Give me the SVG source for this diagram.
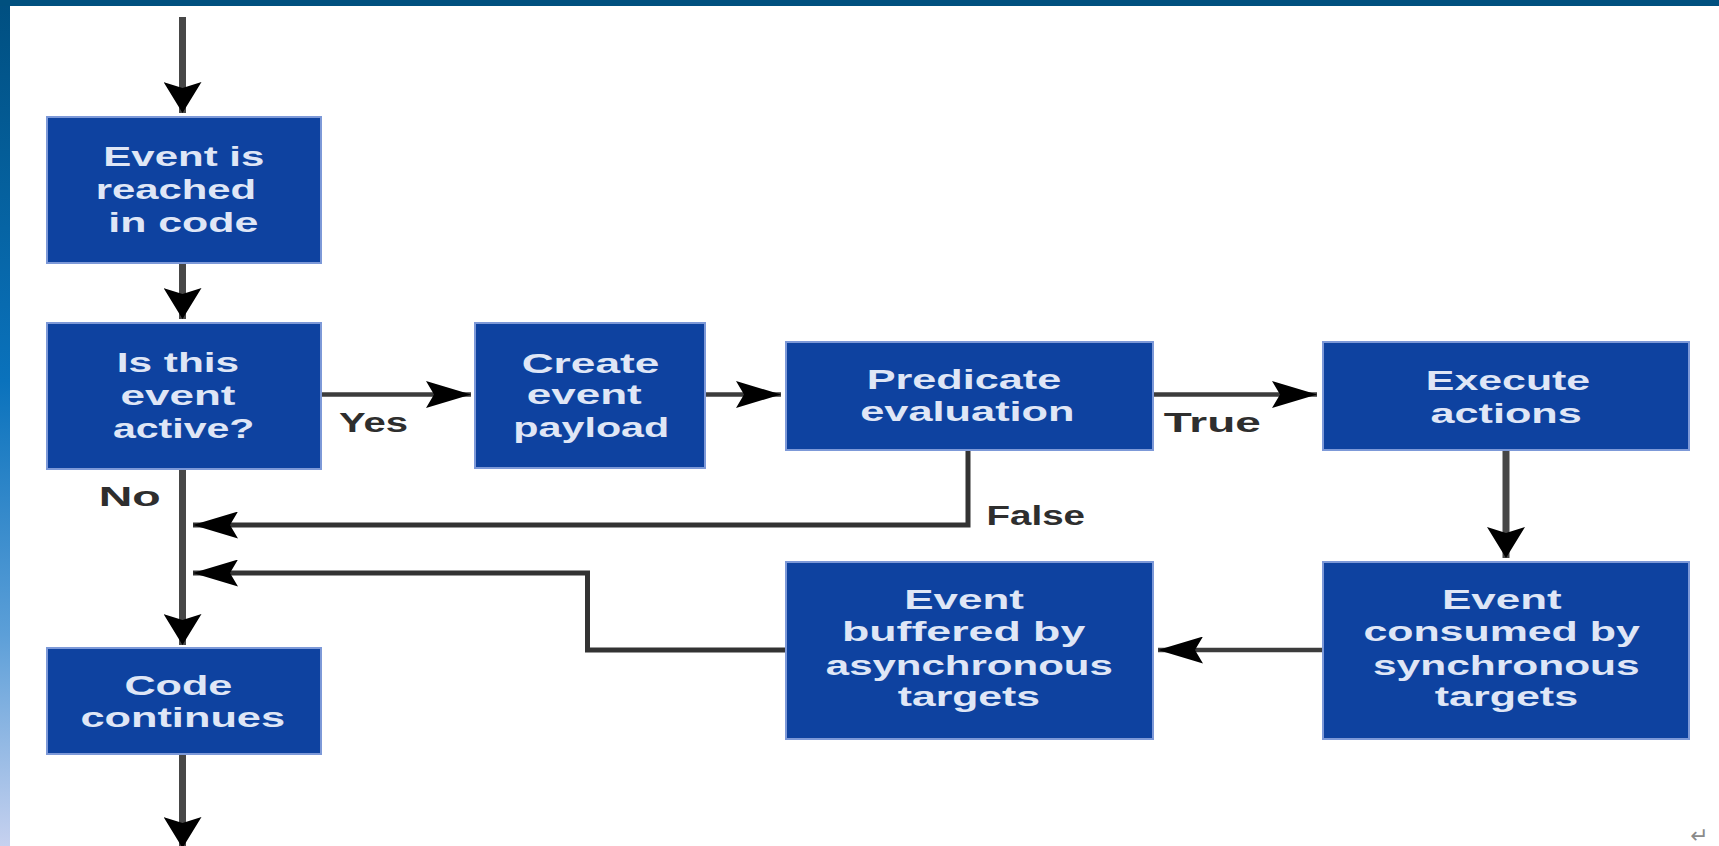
<svg xmlns="http://www.w3.org/2000/svg" width="1719" height="846" viewBox="0 0 1719 846">
<defs>
<linearGradient id="sideGrad" x1="0" y1="0" x2="0" y2="1">
<stop offset="0" stop-color="#004f80"/>
<stop offset="0.45" stop-color="#0a72bc"/>
<stop offset="0.75" stop-color="#5c9fd8"/>
<stop offset="1" stop-color="#c6d1ef"/>
</linearGradient>
<marker id="ah" markerUnits="userSpaceOnUse" viewBox="0 0 45 27" markerWidth="45" markerHeight="27" refX="45" refY="13.5" orient="auto">
<path d="M0,0 L45,13.5 L0,27 L8,13.5 Z" fill="#000"/>
</marker>
<marker id="av" markerUnits="userSpaceOnUse" viewBox="0 0 31 38" markerWidth="31" markerHeight="38" refX="31" refY="19" orient="auto">
<path d="M0,0 L31,19 L0,38 L6,19 Z" fill="#000"/>
</marker>
</defs>
<style>
.box{fill:#0e42a0;stroke:#7d99d8;stroke-width:2}
.bt{font-family:"Liberation Sans",Arial,sans-serif;font-size:28.5px;font-weight:bold;fill:#dfe6f6}
.lb{font-family:"Liberation Sans",Arial,sans-serif;font-size:28.5px;font-weight:bold;fill:#2e2e2e}
.v{stroke:#474747;stroke-width:7;fill:none;marker-end:url(#av)}
.h{stroke:#3c3c3c;stroke-width:4.5;fill:none;marker-end:url(#ah)}
.p{stroke:#333;stroke-width:5;fill:none;stroke-linejoin:miter;marker-end:url(#ah)}
</style>
<rect x="0" y="0" width="1719" height="846" fill="#ffffff"/>
<rect x="0" y="0" width="10" height="846" fill="url(#sideGrad)"/>
<rect x="0" y="0" width="1719" height="6" fill="#00507f"/>

<g id="connectors">
<line class="v" x1="182.5" y1="17" x2="182.5" y2="113"/>
<line class="v" x1="182.5" y1="263" x2="182.5" y2="319"/>
<line class="v" x1="182.5" y1="469" x2="182.5" y2="645"/>
<line class="v" x1="182.5" y1="754" x2="182.5" y2="848"/>
<line class="h" x1="321" y1="394.5" x2="471" y2="394.5"/>
<line class="h" x1="705" y1="394.5" x2="781" y2="394.5"/>
<line class="h" x1="1153" y1="394.5" x2="1317" y2="394.5"/>
<line class="v" x1="1506" y1="450" x2="1506" y2="558"/>
<line class="h" x1="1323" y1="650" x2="1158" y2="650"/>
<polyline class="p" points="968,450 968,525 193,525"/>
<polyline class="p" points="786,650 587.5,650 587.5,573 193,573"/>
</g>

<g id="node-reached">
<rect class="box" x="47" y="117" width="274" height="146"/>
<text class="bt" x="103.3" y="165.7" textLength="161" lengthAdjust="spacingAndGlyphs">Event is</text>
<text class="bt" x="95.7" y="199" textLength="160.5" lengthAdjust="spacingAndGlyphs">reached</text>
<text class="bt" x="108.3" y="231.7" textLength="150" lengthAdjust="spacingAndGlyphs">in code</text>
</g>

<g id="node-active">
<rect class="box" x="47" y="323" width="274" height="146"/>
<text class="bt" x="116.7" y="372.4" textLength="122.5" lengthAdjust="spacingAndGlyphs">Is this</text>
<text class="bt" x="120.6" y="404.5" textLength="114.8" lengthAdjust="spacingAndGlyphs">event</text>
<text class="bt" x="112.9" y="437.5" textLength="141.6" lengthAdjust="spacingAndGlyphs">active?</text>
</g>

<g id="node-payload">
<rect class="box" x="475" y="323" width="230" height="145"/>
<text class="bt" x="521.7" y="372.7" textLength="137.6" lengthAdjust="spacingAndGlyphs">Create</text>
<text class="bt" x="526.7" y="404.3" textLength="115" lengthAdjust="spacingAndGlyphs">event</text>
<text class="bt" x="513.3" y="436.7" textLength="156" lengthAdjust="spacingAndGlyphs">payload</text>
</g>

<g id="node-predicate">
<rect class="box" x="786" y="342" width="367" height="108"/>
<text class="bt" x="866.7" y="388.8" textLength="194.5" lengthAdjust="spacingAndGlyphs">Predicate</text>
<text class="bt" x="860.2" y="420.5" textLength="214.4" lengthAdjust="spacingAndGlyphs">evaluation</text>
</g>

<g id="node-execute">
<rect class="box" x="1323" y="342" width="366" height="108"/>
<text class="bt" x="1425.8" y="389.8" textLength="164.4" lengthAdjust="spacingAndGlyphs">Execute</text>
<text class="bt" x="1430.5" y="422.6" textLength="151.3" lengthAdjust="spacingAndGlyphs">actions</text>
</g>

<g id="node-consumed">
<rect class="box" x="1323" y="562" width="366" height="177"/>
<text class="bt" x="1442" y="609" textLength="119.7" lengthAdjust="spacingAndGlyphs">Event</text>
<text class="bt" x="1363.4" y="641" textLength="276.4" lengthAdjust="spacingAndGlyphs">consumed by</text>
<text class="bt" x="1373" y="675.3" textLength="266.7" lengthAdjust="spacingAndGlyphs">synchronous</text>
<text class="bt" x="1434.8" y="706.3" textLength="143.3" lengthAdjust="spacingAndGlyphs">targets</text>
</g>

<g id="node-buffered">
<rect class="box" x="786" y="562" width="367" height="177"/>
<text class="bt" x="904.2" y="609" textLength="119.8" lengthAdjust="spacingAndGlyphs">Event</text>
<text class="bt" x="841.9" y="641" textLength="243.4" lengthAdjust="spacingAndGlyphs">buffered by</text>
<text class="bt" x="825.8" y="675.3" textLength="287" lengthAdjust="spacingAndGlyphs">asynchronous</text>
<text class="bt" x="897.7" y="706.3" textLength="142.4" lengthAdjust="spacingAndGlyphs">targets</text>
</g>

<g id="node-continues">
<rect class="box" x="47" y="648" width="274" height="106"/>
<text class="bt" x="124.4" y="694.5" textLength="108" lengthAdjust="spacingAndGlyphs">Code</text>
<text class="bt" x="80.4" y="726.5" textLength="204.7" lengthAdjust="spacingAndGlyphs">continues</text>
</g>

<g id="labels">
<text class="lb" x="339" y="432" textLength="69" lengthAdjust="spacingAndGlyphs">Yes</text>
<text class="lb" x="98.7" y="506" textLength="62" lengthAdjust="spacingAndGlyphs">No</text>
<text class="lb" x="1163.8" y="432" textLength="97" lengthAdjust="spacingAndGlyphs">True</text>
<text class="lb" x="986.5" y="524.6" textLength="98.5" lengthAdjust="spacingAndGlyphs">False</text>
<text x="1690" y="843" font-family="DejaVu Sans, sans-serif" font-size="22" fill="#8a8a8a">↵</text>
</g>
</svg>
